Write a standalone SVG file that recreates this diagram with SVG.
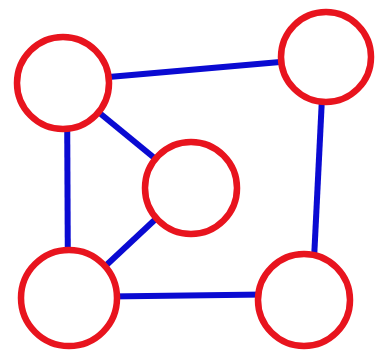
<svg xmlns="http://www.w3.org/2000/svg" width="376" height="355" viewBox="0 0 376 355">
<style>
.edge{stroke:#0a0ad2;stroke-width:6;stroke-linecap:butt;fill:none}
.node{fill:#ffffff;stroke:#e8141e;stroke-width:6.5}
</style>
<rect width="376" height="355" fill="#ffffff"/>
<g id="edges">
<line class="edge" x1="63" y1="81" x2="326" y2="58"/>
<line class="edge" x1="63" y1="83" x2="191" y2="188"/>
<line class="edge" x1="67" y1="83" x2="68" y2="298"/>
<line class="edge" x1="191" y1="186" x2="69" y2="300"/>
<line class="edge" x1="69" y1="297" x2="304" y2="294"/>
<line class="edge" x1="324" y1="57" x2="312" y2="300"/>
</g>
<g id="n1"><circle class="node" cx="63" cy="83" r="46"/></g>
<g id="n2"><circle class="node" cx="326" cy="57" r="45"/></g>
<g id="n3"><circle class="node" cx="191" cy="188" r="46"/></g>
<g id="n4"><circle class="node" cx="69" cy="298" r="48"/></g>
<g id="n5"><circle class="node" cx="304" cy="300" r="46"/></g>
</svg>
